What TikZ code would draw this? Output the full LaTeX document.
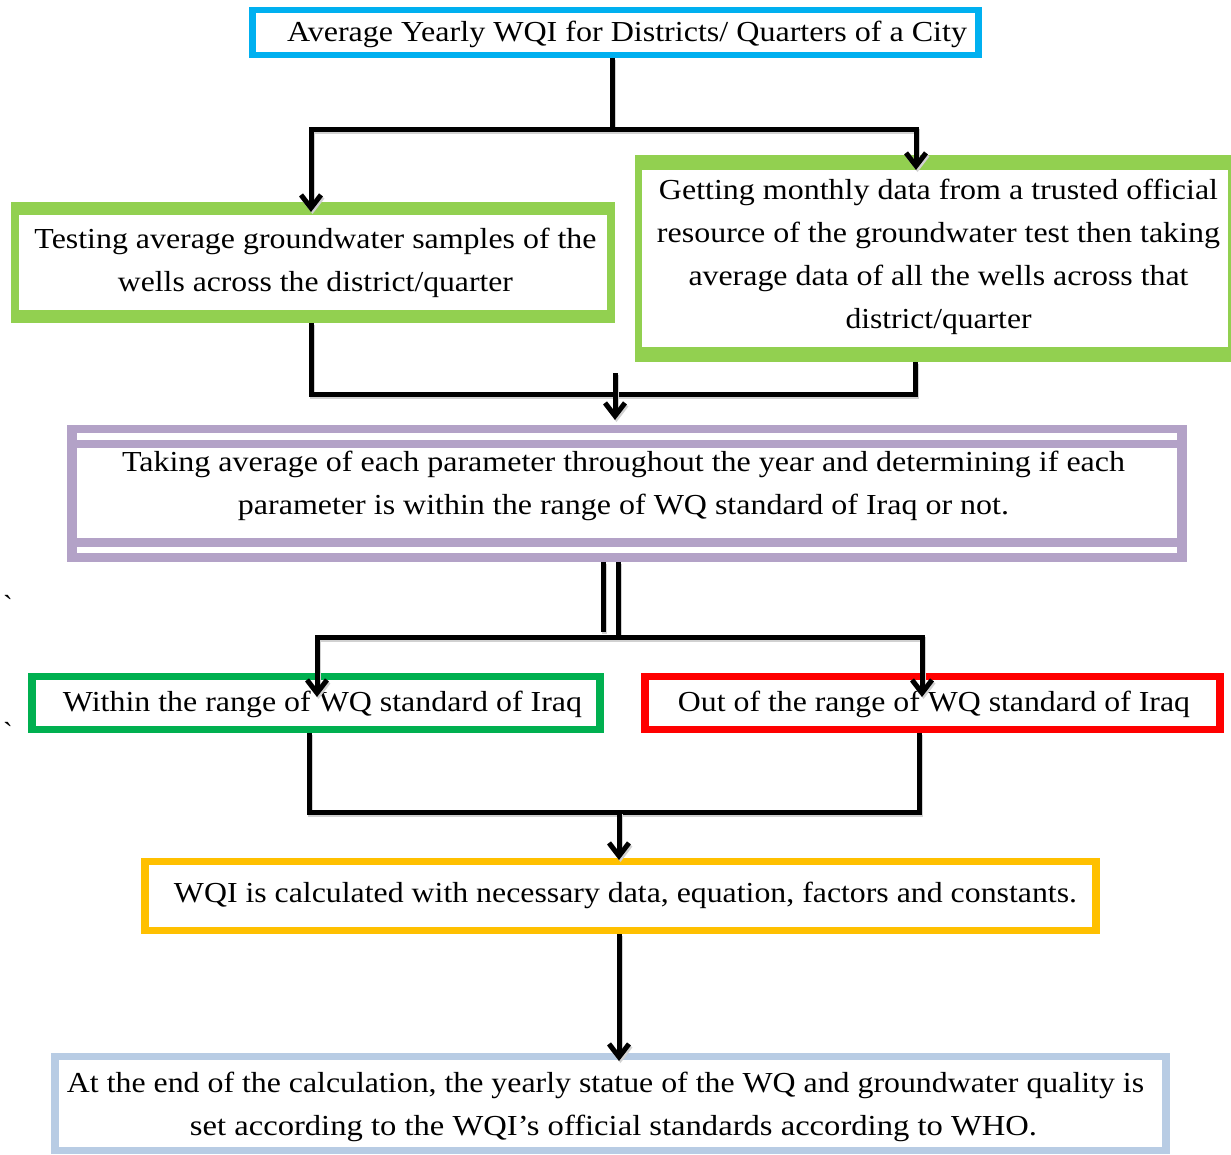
\documentclass[tikz,border=0pt]{standalone}
\usepackage{fontspec}
\setmainfont{Liberation Serif}[Ligatures=TeXOff]
\usepackage{graphicx}
\usetikzlibrary{arrows.meta,calc}
\definecolor{cblue}{HTML}{00B0F0}
\definecolor{lgreen}{HTML}{92D050}
\definecolor{cpurple}{HTML}{B3A2C7}
\definecolor{dgreen}{HTML}{00B050}
\definecolor{cred}{HTML}{FF0000}
\definecolor{cyellow}{HTML}{FFC000}
\definecolor{lblue}{HTML}{B8CCE4}
\newcommand\fitln[2]{\resizebox{#1pt}{\height}{\strut #2}}
\begin{document}
\begin{tikzpicture}[x=1pt,y=-1pt,
  boxframe/.style n args={3}{fill=#1, inner sep=0pt, outer sep=0pt,
    path picture={\fill[white] ([shift={(#2pt,#3pt)}]path picture bounding box.south west) rectangle ([shift={(-#2pt,-#3pt)}]path picture bounding box.north east);}},
  purplebox/.style={fill=cpurple, inner sep=0pt, outer sep=0pt,
    path picture={
      \fill[white] ([shift={(10pt,24pt)}]path picture bounding box.south west) rectangle ([shift={(-10pt,-23pt)}]path picture bounding box.north east);
      \fill[white] ([shift={(10pt,-15pt)}]path picture bounding box.north west) rectangle ([shift={(-10pt,-8pt)}]path picture bounding box.north east);
      \fill[white] ([shift={(10pt,9pt)}]path picture bounding box.south west) rectangle ([shift={(-10pt,15pt)}]path picture bounding box.south east);}},
  txt/.style={inner sep=0pt, outer sep=0pt, align=center, font=\fontsize{29}{43}\selectfont},
  ln/.style={line width=5pt, black,
    preaction={draw=black!18, line width=5pt, transform canvas={shift={(1.5pt,-2pt)}}}},
  arr/.style={ln, -{Straight Barb[length=13pt,width=20pt]}},
]
\useasboundingbox (0,0) rectangle (1231,1154);

% boxes
\node[boxframe={cblue}{7}{6}, minimum width=733pt, minimum height=51pt] (b1) at (615.5,32.5) {};
\node[boxframe={lgreen}{8}{13}, minimum width=604pt, minimum height=121pt] (b2) at (313,262.5) {};
\node[boxframe={lgreen}{7}{15}, minimum width=600pt, minimum height=207pt] (b3) at (935,258.5) {};
\node[purplebox, minimum width=1120pt, minimum height=137pt] (b4) at (627,493.5) {};
\node[boxframe={dgreen}{8}{7}, minimum width=576pt, minimum height=60pt] (b5) at (316,703) {};
\node[boxframe={cred}{8}{7}, minimum width=583pt, minimum height=60pt] (b6) at (932.5,703) {};
\node[boxframe={cyellow}{8}{7}, minimum width=959pt, minimum height=76pt] (b7) at (620.5,896) {};
\node[boxframe={lblue}{8}{7}, minimum width=1119pt, minimum height=101pt] (b8) at (610.5,1103.5) {};

% texts
\node[txt] (t1) at (627,32.45) {\fitln{680}{Average Yearly WQI for Districts/ Quarters of a City}};
\node[txt] (t2) at (315.5,260.95) {\fitln{562}{Testing average groundwater samples of the}\\
  \fitln{395}{wells across the district/quarter}};
\node[txt] (t3) at (938.5,255.45) {\fitln{559}{Getting monthly data from a trusted official}\\
  \fitln{563}{resource of the groundwater test then taking}\\
  \fitln{500}{average data of all the wells across that}\\
  \fitln{186}{district/quarter}};
\node[txt] (t4) at (623.5,484.45) {\fitln{1003}{Taking average of each parameter throughout the year and determining if each}\\
  \fitln{771}{parameter is within the range of WQ standard of Iraq or not.}};
\node[txt] (t5) at (322.5,702.45) {\fitln{519}{Within the range of WQ standard of Iraq}};
\node[txt] (t6) at (934,702.45) {\fitln{512}{Out of the range of WQ standard of Iraq}};
\node[txt] (t7) at (625.5,893.45) {\fitln{903}{WQI is calculated with necessary data, equation, factors and constants.}};
\node[txt] (t8) at (605.5,1104.95) {\fitln{1077}{At the end of the calculation, the yearly statue of the WQ and groundwater quality is}\\
  \hspace*{16pt}\fitln{847}{set according to the WQI’s official standards according to WHO.}};

\node[txt] (bt1) at (8,605) {\symbol{96}};
\node[txt] (bt2) at (8,732) {\symbol{96}};

% connectors
\coordinate (j1) at (612,129);
\draw[ln] (b1.south -| j1) -- (j1);
\draw[arr] (j1) -| ($(b2.north)+(-2,10)$);
\draw[arr] (j1) -| ($(b3.north)+(-19,15)$);

\draw[ln] ($(b2.south)+(-2,0)$) |- ($(b3.south)+(-20,32)$) -- ($(b3.south)+(-20,0)$);
\coordinate (j2) at (615,373);
\draw[arr] (j2) -- ($(b4.north)+(-12,-5)$);

\draw[ln] ($(b4.south)+(-24,0)$) -- ++(0,70);
\coordinate (j3) at (618,637);
\draw[ln] ($(b4.south)+(-9,0)$) -- (j3);
\draw[arr] (j3) -| ($(b5.north)+(1,24)$);
\draw[arr] (j3) -| ($(b6.north)+(-10.5,24)$);

\draw[ln] ($(b5.south)+(-7,0)$) |- ($(b6.south)+(-13.5,79)$) -- ($(b6.south)+(-13.5,0)$);
\coordinate (j4) at (619,812);
\draw[arr] (j4) -- ($(b7.north)+(-1.5,2)$);
\draw[arr] ($(b7.south)+(-1.5,0)$) -- ($(b8.north)+(8.5,8)$);
\end{tikzpicture}
\end{document}
